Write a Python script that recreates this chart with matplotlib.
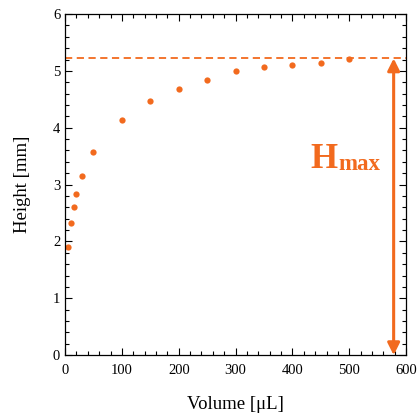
import numpy as np
import matplotlib
matplotlib.use('Agg')
import matplotlib.pyplot as plt
from matplotlib.ticker import MultipleLocator

plt.rcParams['font.family'] = ['Liberation Serif', 'DejaVu Serif']
plt.rcParams['mathtext.fontset'] = 'stix'

# Data
volume = [5, 10, 15, 20, 30, 50, 100, 150, 200, 250, 300, 350, 400, 450, 500]
height = [1.90, 2.32, 2.61, 2.83, 3.15, 3.57, 4.13, 4.47, 4.68, 4.84, 5.00,
          5.07, 5.11, 5.14, 5.21]
h_max = 5.22
arrow_x = 578

orange = '#F26A1E'

fig = plt.figure(figsize=(4.17, 4.13), dpi=100)
ax = fig.add_axes([0.156, 0.140, 0.818, 0.826])

ax.plot(volume, height, 'o', color=orange, markersize=4.5, markeredgewidth=0)
ax.axhline(h_max, color=orange, linestyle=(0, (4, 2.5)), linewidth=1.3)

ax.annotate('', xy=(arrow_x, 0), xytext=(arrow_x, h_max),
            arrowprops=dict(arrowstyle='<|-|>', color=orange, lw=2.2,
                            mutation_scale=18, shrinkA=0, shrinkB=0))

# H_max label
ax.text(480, 3.29, 'H', color=orange, fontsize=25, fontweight='bold',
        ha='right', va='baseline')
ax.text(480, 3.255, 'max', color=orange, fontsize=16.5, fontweight='bold',
        ha='left', va='baseline')

ax.set_xlim(0, 600)
ax.set_ylim(0, 6)
ax.xaxis.set_major_locator(MultipleLocator(100))
ax.xaxis.set_minor_locator(MultipleLocator(20))
ax.yaxis.set_major_locator(MultipleLocator(1))
ax.yaxis.set_minor_locator(MultipleLocator(0.2))
ax.tick_params(which='both', direction='in', top=True, right=True,
               labelsize=10.5, width=0.8)
ax.tick_params(which='major', length=5)
ax.tick_params(which='minor', length=3)
ax.tick_params(axis='x', pad=6)
for s in ax.spines.values():
    s.set_linewidth(0.9)

ax.set_xlabel('Volume [μL]', fontsize=13.5, labelpad=14)
ax.set_ylabel('Height [mm]', fontsize=13.5, labelpad=16)

plt.savefig('out.png', dpi=100)
plt.close()
